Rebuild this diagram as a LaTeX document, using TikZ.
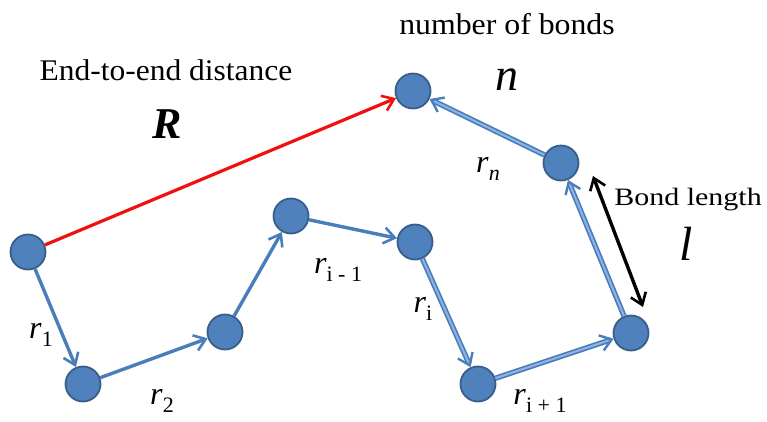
\documentclass[tikz,border=0pt]{standalone}
\usepackage{fontspec}
\setmainfont{Liberation Serif}
\usetikzlibrary{arrows.meta}
\definecolor{bfill}{HTML}{4F81BD}
\definecolor{bedge}{HTML}{385D8A}
\definecolor{bline}{HTML}{4A7EBB}
\definecolor{blight}{HTML}{8FB4E3}
\definecolor{rline}{HTML}{F01010}
\tikzset{
  bead/.style={circle, fill=bfill, draw=bedge, line width=1.8pt, minimum size=35pt, inner sep=0pt},
  bond/.style={draw=bline, line width=3.4pt, -{Straight Barb[length=11pt,width=16pt,line width=2.6pt]}},
  dbond/.style={draw=bline, double=blight, double distance=2pt, line width=1.7pt, -{Straight Barb[length=11pt,width=16pt,line width=2.4pt]}},
  lbl/.style={font=\fontsize{32}{36}\selectfont, inner sep=0pt},
  txt/.style={font=\fontsize{30}{34}\selectfont, inner sep=0pt}
}
\newcommand{\rsub}[1]{\textit{r}\raisebox{-0.25em}{\fontsize{22}{24}\selectfont #1}}
\begin{document}
\begin{tikzpicture}[x=1pt,y=-1pt]
\useasboundingbox (0,0) rectangle (767,421);
\node[bead] (b1) at (28,252) {};
\node[bead] (b2) at (83,384) {};
\node[bead] (b3) at (225,332) {};
\node[bead] (b4) at (291,216) {};
\node[bead] (b5) at (415,242) {};
\node[bead] (b6) at (478,384) {};
\node[bead] (b7) at (631,333) {};
\node[bead] (b8) at (561,163) {};
\node[bead] (b9) at (413,91) {};
\draw[bond] (b1) -- (b2);
\draw[bond] (b2) -- (b3);
\draw[bond] (b3) -- (b4);
\draw[bond] (b4) -- (b5);
\draw[dbond] (b5) -- (b6);
\draw[dbond] (b6) -- (b7);
\draw[dbond] (b7) -- (b8);
\draw[dbond] (b8) -- (b9);
\draw[draw=rline, line width=3.2pt, -{Straight Barb[length=11pt,width=16pt,line width=2.6pt]}] (b1) -- (b9);
\coordinate (l1) at (593,176);
\coordinate (l2) at (643,307);
\draw[black, line width=3.4pt, {Straight Barb[length=11pt,width=16pt,line width=2.6pt]}-{Straight Barb[length=11pt,width=16pt,line width=2.6pt]}] (l1) -- (l2);
\node[txt] (t1) at (166,70) {\scalebox{1.05}[1]{End-to-end distance}};
\node[font=\fontsize{44}{48}\selectfont\bfseries\itshape, inner sep=0pt] (tR) at (167,124) {R};
\node[txt] (t2) at (507,24) {\scalebox{1.06}[1]{number of bonds}};
\node[font=\fontsize{46}{50}\selectfont\itshape, inner sep=0pt] (tn) at (507,80) {n};
\node[font=\fontsize{25}{28}\selectfont, inner sep=0pt] (t3) at (688,200) {\scalebox{1.2}[1]{Bond length}};
\node[font=\fontsize{48}{52}\selectfont\itshape, inner sep=0pt] (tl) at (686,244) {l};
\node[lbl] (r1) at (41,335) {\rsub{1}};
\node[lbl] (r2) at (162,401) {\rsub{2}};
\node[lbl] (rim) at (338,270) {\rsub{i - 1}};
\node[lbl] (ri) at (423,309) {\rsub{i}};
\node[lbl] (rip) at (540,401) {\rsub{i + 1}};
\node[lbl] (rn) at (488,169) {\rsub{\textit{n}}};
\end{tikzpicture}
\end{document}
